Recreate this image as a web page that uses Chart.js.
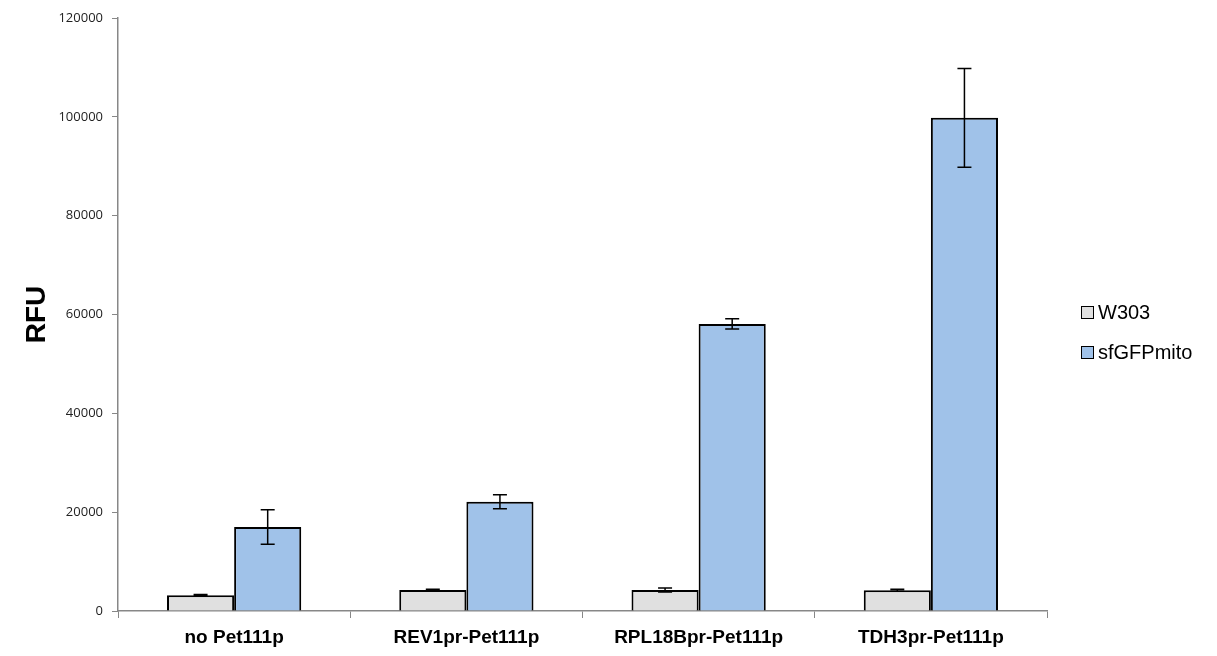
<!DOCTYPE html>
<html>
<head>
<meta charset="utf-8">
<script src="https://cdn.jsdelivr.net/npm/chart.js@4.4.1/dist/chart.umd.min.js"></script>
<style>
  html, body { margin: 0; padding: 0; background: #ffffff; }
  #wrap { width: 1217px; height: 656px; position: relative; }
</style>
</head>
<body>
<div id="wrap"><canvas id="chart"></canvas></div>
<script>
// Strains / constructs on the x axis
const categories = ['no Pet111p', 'REV1pr-Pet111p', 'RPL18Bpr-Pet111p', 'TDH3pr-Pet111p'];
const seriesNames = ['W303', 'sfGFPmito'];

// Mean fluorescence (RFU) per construct
const w303Values = [3200, 4250, 4250, 4200];
const sfgfpValues = [17000, 22100, 58100, 99800];

// Standard deviations for the error bars
const w303Errors = [150, 150, 400, 200];
const sfgfpErrors = [3500, 1400, 1050, 10000];

// Y axis tick values
const yTicks = [0, 20000, 40000, 60000, 80000, 100000, 120000];

const axisGrey = '#878787';

// Draws symmetric error bars for every bar using the dataset's errors
const errorBars = {
  id: 'errorBars',
  afterDatasetsDraw(chart) {
    const ctx = chart.ctx;
    const y = chart.scales.y;
    ctx.save();
    ctx.strokeStyle = '#000000';
    ctx.lineWidth = 1.5;
    chart.data.datasets.forEach((ds, di) => {
      const meta = chart.getDatasetMeta(di);
      meta.data.forEach((bar, i) => {
        const v = ds.data[i];
        const e = ds.errors[i];
        const top = y.getPixelForValue(v + e);
        const bot = y.getPixelForValue(v - e);
        const x = bar.x;
        const cap = 7;
        ctx.beginPath();
        ctx.moveTo(x, top); ctx.lineTo(x, bot);
        ctx.moveTo(x - cap, top); ctx.lineTo(x + cap, top);
        ctx.moveTo(x - cap, bot); ctx.lineTo(x + cap, bot);
        ctx.stroke();
      });
    });
    ctx.restore();
  }
};

// Legend drawn at the right of the plot, centred vertically
const sideLegend = {
  id: 'sideLegend',
  afterDraw(chart) {
    const ctx = chart.ctx;
    ctx.save();
    ctx.font = '20px "Liberation Sans", Arial, sans-serif';
    ctx.textBaseline = 'middle';
    ctx.textAlign = 'left';
    const rows = [312, 352];
    chart.data.datasets.forEach((ds, i) => {
      const cy = rows[i];
      ctx.fillStyle = ds.backgroundColor;
      ctx.fillRect(1081, cy - 6, 12, 12);
      ctx.strokeStyle = '#000000';
      ctx.lineWidth = 1;
      ctx.strokeRect(1081.5, cy - 5.5, 12, 12);
      ctx.fillStyle = '#000000';
      ctx.fillText(ds.label, 1098, cy + 1);
    });
    ctx.restore();
  }
};

new Chart(document.getElementById('chart'), {
  type: 'bar',
  data: {
    labels: categories,
    datasets: [
      {
        label: seriesNames[0],
        data: w303Values,
        errors: w303Errors,
        backgroundColor: '#E0E0E0',
        borderColor: '#000000',
        borderWidth: 2
      },
      {
        label: seriesNames[1],
        data: sfgfpValues,
        errors: sfgfpErrors,
        backgroundColor: '#A0C2E9',
        borderColor: '#000000',
        borderWidth: 2
      }
    ]
  },
  options: {
    responsive: true,
    maintainAspectRatio: false,
    animation: false,
    layout: { padding: { left: 0, right: 170, top: 18, bottom: 0 } },
    datasets: {
      bar: { barPercentage: 1.0, categoryPercentage: 0.578 }
    },
    plugins: {
      legend: { display: false },
      tooltip: { enabled: false }
    },
    scales: {
      x: {
        grid: {
          display: true,
          offset: true,
          drawOnChartArea: false,
          drawTicks: true,
          tickLength: 7,
          color: axisGrey,
          lineWidth: 1
        },
        border: { display: true, color: axisGrey, width: 1.5 },
        ticks: {
          color: '#000000',
          padding: 8,
          maxRotation: 0,
          font: { family: '"Liberation Sans", Arial, sans-serif', size: 19, weight: 'bold' }
        },
        afterFit(scale) { scale.height = 45; }
      },
      y: {
        min: 0,
        max: 120000,
        afterBuildTicks(scale) { scale.ticks = yTicks.map(v => ({ value: v })); },
        grid: {
          display: true,
          drawOnChartArea: false,
          drawTicks: true,
          tickLength: 6,
          color: axisGrey,
          lineWidth: 1
        },
        border: { display: true, color: axisGrey, width: 1.5 },
        ticks: {
          color: '#222222',
          padding: 9,
          font: { family: '"Open Sans", "DejaVu Sans", sans-serif', size: 13 },
          callback: (value) => String(value)
        },
        title: {
          display: true,
          text: 'RFU',
          color: '#000000',
          padding: { top: 20, bottom: 0 },
          font: { family: '"Liberation Sans", Arial, sans-serif', size: 28, weight: 'bold' }
        },
        afterFit(scale) { scale.width = 118; }
      }
    }
  },
  plugins: [errorBars, sideLegend]
});
</script>
</body>
</html>
